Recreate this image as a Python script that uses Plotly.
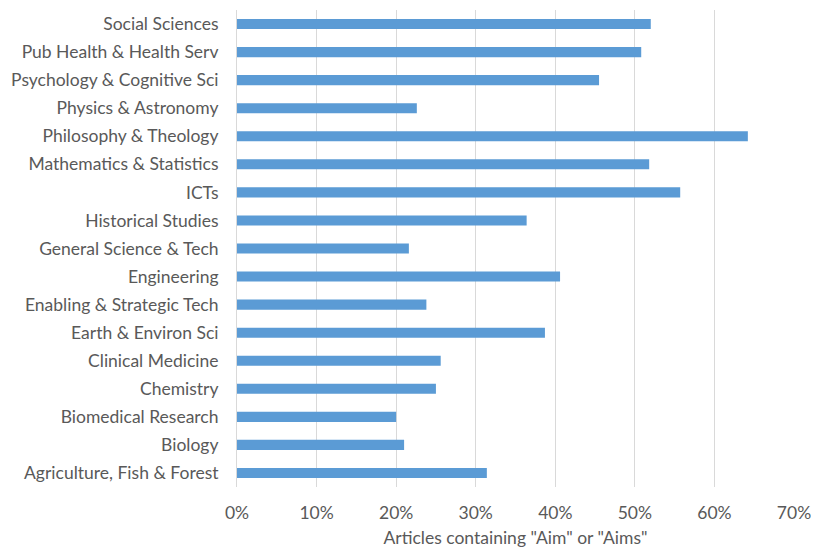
import plotly.graph_objects as go

categories = [
    "Agriculture, Fish & Forest", "Biology", "Biomedical Research", "Chemistry",
    "Clinical Medicine", "Earth & Environ Sci", "Enabling & Strategic Tech",
    "Engineering", "General Science & Tech", "Historical Studies", "ICTs",
    "Mathematics & Statistics", "Philosophy & Theology", "Physics & Astronomy",
    "Psychology & Cognitive Sci", "Pub Health & Health Serv", "Social Sciences",
]
values = [0.314, 0.210, 0.200, 0.250, 0.256, 0.387, 0.238, 0.406, 0.216,
          0.364, 0.557, 0.518, 0.642, 0.226, 0.455, 0.508, 0.520]
tick_vals = [0, 0.1, 0.2, 0.3, 0.4, 0.5, 0.6, 0.7]
tick_text = ["0%", "10%", "20%", "30%", "40%", "50%", "60%", "70%"]

FONT = "Lato, 'Open Sans', sans-serif"
FS = 17.5

fig = go.Figure(go.Bar(
    x=values, y=categories, orientation="h",
    marker=dict(color="#5b9bd5", line=dict(width=0)),
    width=0.36,
))
fig.update_layout(
    width=819, height=552,
    margin=dict(l=229, r=33, t=2, b=73, autoexpand=False),
    paper_bgcolor="white", plot_bgcolor="white",
    font=dict(family=FONT, size=FS, color="#595959"),
    showlegend=False,
)
fig.update_xaxes(
    range=[0, 0.7], tickvals=tick_vals, ticktext=tick_text,
    showgrid=True, gridcolor="#d9d9d9", gridwidth=1,
    zeroline=False, showline=False, ticks="", automargin=False,
    ticklabelstandoff=13,
    tickfont=dict(size=FS, color="#595959"),
    title=dict(text='Articles containing "Aim" or "Aims"', font=dict(size=FS, color="#595959"), standoff=10),
)
fig.update_yaxes(
    categoryorder="array", categoryarray=categories,
    showgrid=False, zeroline=False, showline=True, linecolor="#d9d9d9",
    ticks="", automargin=False, ticklabelstandoff=14,
    tickfont=dict(size=FS, color="#595959"),
    range=[-0.5, len(categories) - 0.5],
)
fig.write_html("out.html")
